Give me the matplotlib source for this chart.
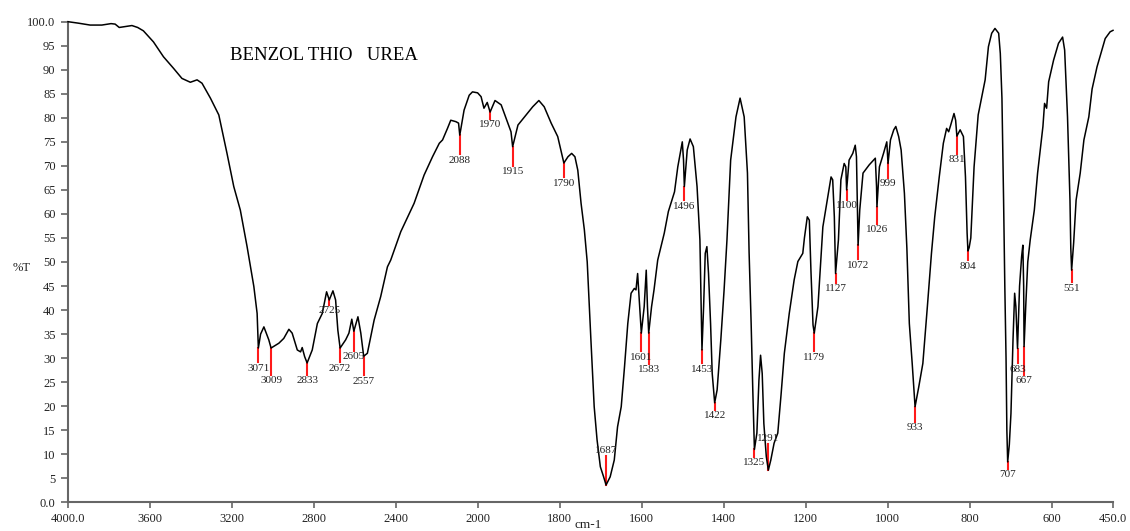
import numpy as np
import matplotlib
matplotlib.use("Agg")
import matplotlib.pyplot as plt

# IR spectrum, benzoyl thiourea  (wavenumber cm-1, %T)
wn = [4000, 3950, 3892, 3835, 3790, 3770, 3750, 3720, 3688, 3660, 3632, 3583,
      3534, 3485, 3444, 3403, 3370, 3346, 3305, 3264, 3224, 3191, 3159, 3126,
      3093, 3077, 3071, 3060, 3044, 3020, 3009, 2971, 2947, 2922, 2906, 2881,
      2865, 2857, 2845, 2833, 2808, 2783, 2759, 2738, 2725, 2707, 2694, 2683,
      2672, 2645, 2629, 2615, 2605, 2585, 2571, 2557, 2539, 2506, 2474, 2441,
      2425, 2376, 2311, 2262, 2221, 2188, 2172, 2148, 2132, 2107, 2094, 2088,
      2067, 2042, 2026, 2001, 1992, 1985, 1977, 1970, 1958, 1943, 1931, 1919,
      1915, 1902, 1886, 1866, 1851, 1838, 1821, 1805, 1790, 1780, 1771, 1763,
      1756, 1748, 1740, 1733, 1724, 1716, 1709, 1701, 1693, 1687, 1677, 1667,
      1659, 1650, 1642, 1634, 1626, 1618, 1614, 1610, 1605, 1601, 1594, 1589,
      1586, 1583, 1576, 1570, 1561, 1545, 1535, 1520, 1512, 1501, 1498, 1496,
      1489, 1482, 1474, 1465, 1458, 1456, 1453, 1449, 1445, 1441, 1437, 1432,
      1428, 1422, 1416, 1407, 1399, 1392, 1383, 1370, 1360, 1350, 1342, 1338,
      1333, 1329, 1325, 1319, 1314, 1310, 1306, 1302, 1296, 1291, 1285, 1277,
      1268, 1260, 1252, 1240, 1228, 1219, 1207, 1203, 1196, 1191, 1187, 1182,
      1179, 1170, 1162, 1158, 1150, 1138, 1134, 1130, 1127, 1120, 1114, 1106,
      1102, 1100, 1094, 1085, 1079, 1076, 1074, 1072, 1068, 1060, 1045, 1030,
      1027, 1026, 1020, 1010, 1002, 999, 993, 985, 980, 973, 967, 959,
      953, 947, 940, 933, 924, 914, 903, 893, 885, 874, 864, 856,
      851, 846, 838, 834, 831, 823, 815, 810, 806, 804, 801, 797,
      789, 779, 766, 762, 754, 746, 738, 729, 725, 721, 717, 714,
      711, 709, 707, 703, 699, 694, 690, 687, 683, 678, 673, 670,
      668, 667, 663, 658, 652, 642, 634, 621, 617, 612, 607, 595,
      583, 573, 568, 561, 555, 553, 551, 546, 540, 530, 521, 509,
      501, 489, 477, 469, 457, 450]
trans = [100.0, 99.7, 99.3, 99.3, 99.6, 99.5, 98.8, 99.0, 99.2, 98.8, 98.1, 95.8,
         92.7, 90.3, 88.2, 87.4, 87.9, 87.2, 84.1, 80.6, 72.6, 65.7, 60.8, 53.2,
         44.9, 39.3, 32.1, 35.0, 36.5, 33.8, 32.1, 33.1, 34.1, 36.0, 35.2, 31.7,
         31.3, 32.2, 30.3, 29.0, 31.7, 37.2, 39.3, 43.8, 42.1, 44.0, 42.1, 35.8,
         32.1, 33.8, 35.2, 38.1, 35.6, 38.6, 35.2, 30.4, 31.0, 37.9, 42.8, 49.0,
         50.4, 56.3, 62.2, 68.1, 71.9, 74.7, 75.4, 77.8, 79.5, 79.2, 78.9, 76.4,
         81.6, 84.7, 85.4, 85.2, 84.4, 82.0, 83.2, 81.2, 83.6, 82.7, 79.9, 77.1,
         74.0, 78.5, 80.2, 82.3, 83.6, 82.3, 78.9, 76.1, 70.6, 71.9, 72.6, 71.9,
         69.1, 62.2, 56.7, 50.0, 33.8, 19.9, 13.0, 7.4, 5.3, 3.6, 5.3, 8.8,
         15.7, 19.9, 28.2, 37.2, 43.5, 44.5, 44.2, 47.6, 40.7, 35.2, 40.7, 48.3,
         40.7, 35.2, 40.7, 44.2, 50.4, 56.0, 60.5, 64.6, 69.8, 75.0, 71.2, 65.7,
         73.3, 75.6, 74.0, 65.7, 54.6, 45.0, 31.7, 40.7, 51.8, 53.2, 47.6, 37.2,
         26.8, 20.7, 23.4, 33.8, 44.2, 54.6, 71.2, 80.2, 84.1, 80.2, 68.5, 52.0,
         37.2, 23.4, 11.0, 14.4, 25.4, 30.6, 26.8, 16.4, 9.5, 6.7, 8.8, 12.3,
         14.4, 22.4, 31.0, 39.3, 46.3, 50.1, 51.8, 55.0, 59.4, 58.7, 48.0, 36.9,
         35.2, 40.7, 51.8, 57.3, 61.5, 67.7, 67.1, 59.4, 47.6, 54.6, 67.1, 70.5,
         69.8, 65.0, 71.2, 72.6, 74.3, 71.9, 62.9, 53.5, 60.8, 68.5, 70.2, 71.6,
         65.7, 61.5, 69.8, 72.6, 75.0, 70.5, 75.4, 77.5, 78.2, 76.1, 73.3, 64.3,
         52.9, 37.2, 28.9, 19.9, 24.0, 28.9, 40.7, 51.8, 59.4, 67.7, 74.7, 77.8,
         77.1, 78.5, 80.9, 79.5, 76.2, 77.5, 76.1, 67.7, 56.0, 52.3, 53.0, 55.0,
         69.8, 80.6, 86.1, 87.9, 94.8, 97.6, 98.6, 97.6, 93.4, 84.1, 62.9, 45.0,
         30.0, 15.0, 8.4, 12.0, 18.5, 33.8, 43.5, 40.7, 32.0, 45.0, 51.1, 53.5,
         45.0, 32.4, 40.7, 50.0, 54.6, 60.8, 68.5, 78.2, 83.0, 82.0, 87.5, 92.0,
         95.5, 96.8, 94.1, 80.2, 62.9, 52.9, 48.3, 54.0, 62.9, 68.5, 75.4, 80.2,
         86.0, 90.6, 94.1, 96.5, 97.9, 98.2]

# labelled peaks
peaks = [3071, 3009, 2833, 2725, 2672, 2605, 2557, 2088, 1970, 1915, 1790,
         1687, 1601, 1583, 1496, 1453, 1422, 1325, 1291, 1179, 1127, 1100,
         1072, 1026, 999, 933, 831, 804, 707, 683, 667, 551]
# length of the red marker (%T); positive = marker and label above the dip
mark_len = [-3, -5.6, -2.5, -1, -3, -4.1, -4, -4, -1.4, -4, -3,
            6, -3.8, -6.4, -2.9, -2.8, -1.5, -1.5, 5.4, -3.8, -1.9, -2.1,
            -2.9, -3.6, -3, -3.1, -3.7, -1.9, -1.4, -3.1, -5.9, -2.5]

xticks = [4000, 3600, 3200, 2800, 2400, 2000, 1800, 1600, 1400, 1200, 1000, 800, 600, 450]
xtick_labels = ['4000.0', '3600', '3200', '2800', '2400', '2000', '1800', '1600',
                '1400', '1200', '1000', '800', '600', '450.0']
yticks = list(range(0, 101, 5))
ytick_labels = ['0.0'] + [str(v) for v in yticks[1:-1]] + ['100.0']


# x scale is compressed 2:1 above 2000 cm-1
def fwd(w):
    w = np.asarray(w, dtype=float)
    return np.where(w > 2000, 2000 + (w - 2000) / 2.0, w)


def inv(u):
    u = np.asarray(u, dtype=float)
    return np.where(u > 2000, 2000 + (u - 2000) * 2.0, u)


plt.rcParams['font.family'] = ['Liberation Serif', 'DejaVu Serif']

fig = plt.figure(figsize=(11.3, 5.31), dpi=100)
ax = fig.add_axes([68 / 1130, 1 - 502.3 / 531, (1113 - 68) / 1130, (502.3 - 21.7) / 531])
ax.set_xscale('function', functions=(fwd, inv))
ax.set_xlim(4000, 450)
ax.set_ylim(0, 100)

ax.plot(wn, trans, color='black', lw=1.1, clip_on=False, zorder=3)

wn_asc = np.array(wn[::-1], dtype=float)
tr_asc = np.array(trans[::-1], dtype=float)
for p, L in zip(peaks, mark_len):
    t0 = np.interp(p, wn_asc, tr_asc)
    ax.plot([p, p], [t0, t0 + L], color='#ff1a1a', lw=1.5, zorder=2)
    if L < 0:
        ax.text(p, t0 + L - 0.3, str(p), ha='center', va='top', fontsize=8, color='#222222')
    else:
        ax.text(p, t0 + L + 0.2, str(p), ha='center', va='bottom', fontsize=8, color='#222222')

ax.set_xticks(xticks)
ax.set_xticklabels(xtick_labels)
ax.set_yticks(yticks)
ax.set_yticklabels(ytick_labels)
ax.xaxis.set_minor_locator(matplotlib.ticker.NullLocator())
ax.tick_params(axis='both', direction='out', labelsize=9, colors='#666666',
               labelcolor='#222222', width=1.2)
ax.tick_params(axis='y', length=5, pad=4)
ax.tick_params(axis='x', length=4, pad=4)

for side in ['top', 'right']:
    ax.spines[side].set_visible(False)
for side in ['left', 'bottom']:
    ax.spines[side].set_color('#666666')
    ax.spines[side].set_linewidth(1.5)

fig.text(22 / 1130, 1 - 268 / 531, '%T', ha='center', va='center', fontsize=9, color='#222222')
fig.text(588 / 1130, 1 - 525 / 531, 'cm-1', ha='center', va='center', fontsize=9.5, color='#222222')
fig.text(230 / 1130, 1 - 56 / 531, 'BENZOL THIO   UREA', ha='left', va='center',
         fontsize=13.5, color='black')

fig.savefig('out.png', dpi=100)
